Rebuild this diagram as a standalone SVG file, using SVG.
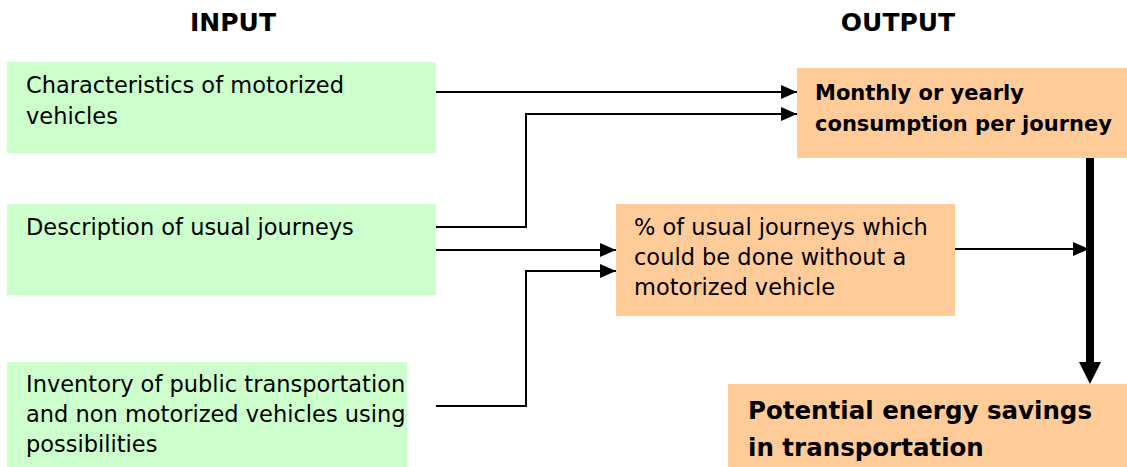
<svg xmlns="http://www.w3.org/2000/svg" width="1127" height="467" viewBox="0 0 1127 467">
<style>
.in{fill:#ccffcc}
.out{fill:#ffcc99}
.t{font-family:"DejaVu Sans",sans-serif;font-size:22.5px;fill:#000}
.b{font-family:"DejaVu Sans",sans-serif;font-size:21px;font-weight:bold;fill:#000}
.h{font-family:"DejaVu Sans",sans-serif;font-size:25px;font-weight:bold;fill:#000}
.big{font-family:"DejaVu Sans",sans-serif;font-size:24.5px;font-weight:bold;fill:#000}
.c{fill:none;stroke:#000;stroke-width:2}
</style>
<defs>
<marker id="a" markerWidth="16" markerHeight="14" refX="16" refY="7" orient="auto" markerUnits="userSpaceOnUse" viewBox="0 0 16 14">
<path d="M0,0 L16,7 L0,14 z" fill="#000"/>
</marker>
</defs>
<rect width="1127" height="467" fill="#fff"/>
<g id="headers">
<text class="h" x="233" y="31" text-anchor="middle">INPUT</text>
<text class="h" x="898" y="31" text-anchor="middle">OUTPUT</text>
</g>
<g id="in1">
<rect class="in" x="7" y="62" width="429" height="91"/>
<text class="t" x="26" y="93">Characteristics of motorized</text>
<text class="t" x="26" y="124">vehicles</text>
</g>
<g id="in2">
<rect class="in" x="7" y="204" width="429" height="91"/>
<text class="t" x="26" y="235">Description of usual journeys</text>
</g>
<g id="in3">
<rect class="in" x="7" y="362" width="400" height="105"/>
<text class="t" x="26" y="392">Inventory of public transportation</text>
<text class="t" x="26" y="422">and non motorized vehicles using</text>
<text class="t" x="26" y="452">possibilities</text>
</g>
<g id="out1">
<rect class="out" x="797" y="68" width="330" height="90"/>
<text class="b" x="815" y="100">Monthly or yearly</text>
<text class="b" x="815" y="131">consumption per journey</text>
</g>
<g id="out2">
<rect class="out" x="616" y="204" width="339" height="112"/>
<text class="t" x="634" y="235">% of usual journeys which</text>
<text class="t" x="634" y="265">could be done without a</text>
<text class="t" x="634" y="295">motorized vehicle</text>
</g>
<g id="out3">
<rect class="out" x="728" y="384" width="399" height="83"/>
<text class="big" x="748" y="419">Potential energy savings</text>
<text class="big" x="748" y="456">in transportation</text>
</g>
<g id="connectors">
<path class="c" d="M436,92 H797" marker-end="url(#a)"/>
<path class="c" d="M436,227 H526 V114 H797" marker-end="url(#a)"/>
<path class="c" d="M436,250 H616" marker-end="url(#a)"/>
<path class="c" d="M436,406 H526 V271 H616" marker-end="url(#a)"/>
<path class="c" d="M955,249 H1089" stroke-width="1.5" marker-end="url(#a)"/>
<path d="M1090,158 V364" stroke="#000" stroke-width="8" fill="none"/>
<path d="M1079,362 L1101,362 L1090,384 z" fill="#000"/>
</g>
</svg>
